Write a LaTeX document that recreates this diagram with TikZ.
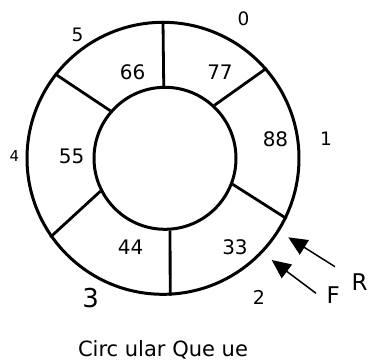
\documentclass[tikz,border=0pt]{standalone}
\usepackage{fontspec}
\setmainfont{DejaVu Sans}
\usetikzlibrary{arrows.meta}
\begin{document}
\begin{tikzpicture}[x=1pt,y=-1pt,
  ringc/.style={circle, draw, line width=3pt, inner sep=0pt},
  divider/.style={line width=2.8pt},
  val/.style={inner sep=0pt, font=\fontsize{20}{20}\selectfont},
  idx/.style={inner sep=0pt},
  ptr/.style={line width=1.5pt, -{Triangle[length=19pt,width=17pt]}},
  lbl/.style={inner sep=0pt, font=\fontsize{23}{23}\selectfont}]
\useasboundingbox (0,0) rectangle (368,362);
\fill[white] (0,0) rectangle (368,362);
\node[ringc, minimum size=272pt] (outer) at (163,158.3) {};
\node[ringc, minimum size=142pt] (inner) at (165,158.3) {};
% dividers
\draw[divider] (inner.91.6) -- (outer.90);
\draw[divider] (inner.47.6) -- (outer.41.1);
\draw[divider] (inner.-21.8) -- (outer.-26);
\draw[divider] (inner.-86.6) -- (outer.-87.4);
\draw[divider] (inner.-153.6) -- (outer.-145);
\draw[divider] (inner.139.2) -- (outer.142.3);
% values
\node[val] (v66) at (132.7,72.7) {66};
\node[val] (v77) at (220,72.7) {77};
\node[val] (v88) at (275.5,139) {88};
\node[val] (v55) at (71.7,156) {55};
\node[val] (v44) at (130.7,247) {44};
\node[val] (v33) at (235,247) {33};
% indices
\node[idx, font=\fontsize{18.5}{18.5}\selectfont] (i0) at (243.5,18.5) {0};
\node[idx, font=\fontsize{18.5}{18.5}\selectfont] (i1) at (326,139) {1};
\node[idx, font=\fontsize{19}{19}\selectfont] (i2) at (259,297) {2};
\node[idx, font=\fontsize{26}{26}\selectfont] (i3) at (90.7,297.7) {3};
\node[idx, font=\fontsize{15}{15}\selectfont] (i4) at (14.5,156) {4};
\node[idx, font=\fontsize{18.5}{18.5}\selectfont] (i5) at (77.5,35) {5};
% pointers
\node[lbl] (R) at (359.5,281.7) {R};
\node[lbl] (F) at (333.3,295.5) {F};
\coordinate (rs) at (335,266.7);
\coordinate (rt) at (288.3,237.3);
\coordinate (fs) at (316,293.3);
\coordinate (ft) at (271.7,260);
\draw[ptr] (rs) -- (rt);
\draw[ptr] (fs) -- (ft);
% caption
\node[inner sep=0pt, anchor=base, font=\fontsize{21}{21}\selectfont] (cap) at (163,356.5) {Circ ular Que ue};
\end{tikzpicture}
\end{document}
